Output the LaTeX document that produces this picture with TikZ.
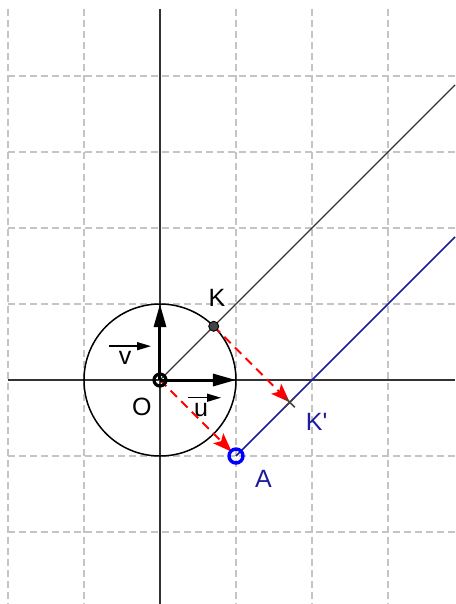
\documentclass[tikz,border=0pt]{standalone}
\usepackage{fontspec}
\setmainfont{Liberation Sans}
\usetikzlibrary{arrows.meta,calc}
\definecolor{gridgray}{HTML}{C4C4C4}
\definecolor{axisgray}{HTML}{333333}
\definecolor{darkblue}{HTML}{1C1C9C}
\definecolor{ptblue}{HTML}{0000FF}
\definecolor{ptgray}{HTML}{444444}
\tikzset{
  gridline/.style={gridgray, line width=1.3pt, dash pattern=on 7pt off 4pt},
  axisline/.style={axisgray, line width=2pt},
  thinline/.style={axisgray, line width=1.4pt},
  blueline/.style={darkblue, line width=1.7pt},
  redarrow/.style={red, line width=2pt, dash pattern=on 9pt off 6pt, -{Stealth[length=19pt,width=14pt,inset=4pt]}},
  basevec/.style={black, line width=3pt, -{Triangle[length=23pt,width=12pt]}},
  labelvec/.style={black, line width=1.4pt, -{Triangle[length=14pt,width=8pt]}},
  lbl/.style={font=\fontsize{25}{29}\selectfont, inner sep=0pt},
  bluelbl/.style={lbl, text=darkblue},
}
\begin{document}
\begin{tikzpicture}[x=76pt,y=76pt]
\useasboundingbox (-2.105,-2.947) rectangle (3.882,5);
% grid
\foreach \x in {-2,-1,1,2,3} \draw[gridline] (\x,4.882) -- (\x,-2.947);
\foreach \y in {-2,-1,1,2,3,4} \draw[gridline] (-2,\y) -- (3.882,\y);
% coordinates
\coordinate (O) at (0,0);
\coordinate (K) at (0.7071,0.7071);
\coordinate (A) at (1,-1);
\coordinate (Kp) at (1.7071,-0.2929);
\coordinate (E1) at (3.882,3.882);
\coordinate (E2) at (3.882,1.882);
\coordinate (U) at (1,0);
\coordinate (V) at (0,1);
\coordinate (xl) at (-2,0);
\coordinate (xr) at (3.882,0);
\coordinate (yt) at (0,4.882);
\coordinate (yb) at (0,-2.947);
% axes
\draw[axisline] (xl) -- (xr);
\draw[axisline] (yt) -- (yb);
% unit circle
\draw[black, line width=1.5pt] (O) circle[radius=1];
% lines
\draw[thinline] (O) -- (E1);
\draw[blueline] (A) -- (E2);
% red translation arrows
\draw[redarrow] (K) -- (Kp);
\draw[redarrow, shorten >=6pt] (O) -- (A);
% base vectors
\draw[basevec] (O) -- (U);
\draw[basevec] (O) -- (V);
% points
\draw[ptgray, line width=1.6pt] ($(Kp)+(-5pt,5pt)$) -- ($(Kp)+(5pt,-5pt)$);
\draw[ptgray, line width=1.6pt] ($(Kp)+(-5pt,-5pt)$) -- ($(Kp)+(5pt,5pt)$);
\draw[black, line width=3.2pt] (O) circle[radius=6pt];
\filldraw[fill=ptgray, draw=black, line width=0.9pt] (K) circle[radius=5pt];
\draw[ptblue, line width=3.4pt] (A) circle[radius=7pt];
% labels
\node[lbl] (lK) at (0.75,1.08) {K};
\node[lbl] (lO) at (-0.237,-0.355) {O};
\node[lbl] (lu) at (0.54,-0.39) {u};
\node[lbl] (lv) at (-0.46,0.29) {v};
\node[bluelbl] (lKp) at (2.06,-0.55) {K\textquotesingle};
\node[bluelbl] (lA) at (1.36,-1.30) {A};
\draw[labelvec] ([xshift=-13pt,yshift=5pt]lu.north) -- ([xshift=20pt,yshift=5pt]lu.north);
\draw[labelvec] ([xshift=-16pt,yshift=5pt]lv.north) -- ([xshift=26pt,yshift=5pt]lv.north);
\end{tikzpicture}
\end{document}
